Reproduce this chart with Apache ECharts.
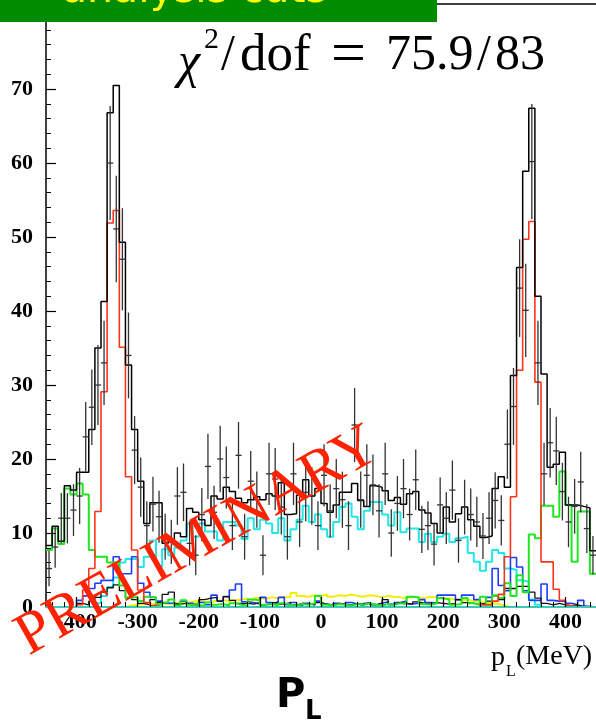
<!DOCTYPE html>
<html>
<head>
<meta charset="utf-8">
<script src="https://cdn.jsdelivr.net/npm/echarts@6/dist/echarts.min.js"></script>
<style>
html,body{margin:0;padding:0;background:#fff;}
#chart{width:596px;height:725px;}
</style>
</head>
<body>
<div id="chart"></div>
<script>
// p_L histogram: 90 bins of 10 MeV from -450 to 450
const binLow = -450;
const binWidth = 10;
const nBins = 90;
const binEdges = Array.from({length: nBins + 1}, (_, i) => binLow + i * binWidth);

const xTickValues = [-400, -300, -200, -100, 0, 100, 200, 300, 400];
const yTickLabels = [0, 10, 20, 30, 40, 50, 60, 70];

// total fit (black histogram)
const totalFit = [8.3,10.9,8.9,16.4,15.8,18.2,18.2,24.0,35.0,41.3,
  66.8,70.5,49.3,32.7,24.0,17.0,11.3,14.1,14.1,8.6,
  9.0,10.0,9.5,13.3,12.8,11.8,11.0,15.0,14.6,16.2,
  15.6,14.7,14.1,14.5,14.9,14.5,15.3,15.0,16.8,12.5,
  12.6,15.1,17.2,15.0,16.0,14.0,12.8,13.8,15.5,15.5,
  16.7,14.4,13.6,16.4,16.2,15.7,14.4,14.8,13.9,15.3,
  15.6,13.1,12.7,11.3,10.0,13.5,11.5,12.6,13.5,11.8,
  10.9,9.4,9.6,16.0,17.6,16.2,31.3,45.9,58.9,67.4,
  42.0,31.5,18.9,19.3,20.9,13.8,13.8,13.6,13.4,7.6];

// data points and their errors
const dataCounts = [5.2,8.1,12.0,12.0,13.1,15.0,23.0,27.0,30.0,33.0,
  60.0,51.1,47.0,34.0,21.2,16.2,11.0,13.9,12.2,9.5,
  8.8,15.0,15.5,8.6,7.0,12.5,19.0,12.8,20.0,17.5,
  11.0,20.5,9.5,17.0,14.5,7.0,18.0,17.3,13.5,9.5,
  18.0,11.5,15.5,15.0,11.0,17.8,13.0,16.0,14.5,11.0,
  24.6,14.5,17.8,16.5,13.0,18.0,10.0,14.0,16.0,12.5,
  17.2,10.5,11.0,8.5,13.8,12.0,15.8,9.0,13.5,12.5,
  11.5,9.6,12.0,14.4,11.7,22.0,27.1,43.1,40.1,60.2,
  33.0,18.0,22.2,21.1,15.6,11.5,13.6,16.9,10.6,7.0];
const dataErrors = [2.4,2.8,3.4,3.4,3.5,3.8,4.7,5.1,5.4,5.7,
  7.7,7.2,6.9,5.8,4.6,4.0,3.3,3.7,3.5,3.1,
  3.0,3.9,3.9,3.0,2.7,3.6,4.4,3.6,4.5,4.2,
  3.3,4.5,3.1,4.1,3.8,2.7,4.2,4.2,3.7,3.1,
  4.2,3.4,3.9,3.9,3.3,4.2,3.6,4.0,3.8,3.3,
  5.0,3.8,4.2,4.1,3.6,4.2,3.2,3.7,4.0,3.5,
  4.1,3.2,3.3,2.9,3.7,3.5,4.0,3.0,3.7,3.5,
  3.4,3.1,3.5,3.8,3.4,4.7,5.2,6.6,6.3,7.8,
  5.7,4.2,4.7,4.6,3.9,3.4,3.7,4.1,3.3,2.6];

// fit components
const signalRed = [0,0,0,0,0,0.3,2.3,5.2,12.9,29.1,
  51.9,53.6,35.1,17.6,7.7,2.3,0.6,0.2,0,0,
  0,0,0,0,0,0,0,0,0,0,
  0,0,0,0,0,0,0,0,0,0,
  0,0,0,0,0,0,0,0,0,0,
  0,0,0,0,0,0,0,0,0,0,
  0,0,0,0,0,0,0,0,0,0,
  0,0.3,0.3,0.8,1.7,6.8,14.9,32.0,49.7,52.1,
  30.4,6.1,6.1,2.4,0.9,0.2,0,0,0,0];
const bkgGreen = [7.7,10.6,8.5,16.0,15.2,16.7,15.2,7.7,6.8,6.8,
  6.0,6.0,2.9,1.2,1.4,0.8,1.4,1.3,0.3,0.6,
  1.0,0.2,0.9,0.3,0.5,0.2,0.6,0.3,0.4,0.2,
  0.5,0.3,0.2,1.0,0.9,0.3,0.4,0.2,0.5,0.3,
  0.2,0.4,0.3,0.5,1.5,0.3,0.2,0.4,0.3,0.2,
  0.4,0.3,0.5,0.3,0.2,0.4,0.3,0.5,0.4,1.4,
  1.3,0.4,0.3,0.5,1.2,1.0,0.3,0.4,1.2,0.5,
  0.3,1.4,0.3,1.6,1.2,3.2,1.5,4.3,2.0,9.8,
  9.3,13.7,13.7,12.2,18.3,13.8,6.1,12.9,12.9,4.5];
const bkgCyan = [0,0,0,0,0,0,0,0,0.5,1.5,
  2.7,4.0,6.0,6.5,6.5,5.4,6.8,9.0,5.4,7.8,
  7.0,8.0,9.0,11.3,9.5,11.3,10.2,10.2,9.0,11.5,
  11.5,11.0,9.2,12.0,10.5,11.8,11.3,10.0,12.0,9.0,
  10.5,11.8,13.7,11.5,12.5,10.5,9.5,11.5,13.5,14.0,
  12.2,10.5,13.0,14.2,14.2,12.5,11.0,12.8,10.1,10.6,
  10.6,8.8,9.9,8.8,9.5,9.9,8.8,9.3,9.5,7.3,
  6.1,4.9,6.1,7.7,7.3,5.2,5.0,3.6,3.4,1.0,
  0.3,0,0,0,0,0,0,0,0,0];
const bkgBlue = [0,0,0,0,0,0.9,1.5,2.5,3.2,3.6,
  3.6,6.8,4.5,4.5,6.8,3.2,2.0,1.3,0.8,0.5,
  0.5,0.3,0.8,0.5,0.3,0.6,0.3,1.6,0.8,1.4,
  2.3,3.1,0.7,0.6,0.4,1.3,0.6,0.5,1.3,0.3,
  0.6,0.2,0.5,0.3,0.8,0.4,0.2,0.5,0.3,0.6,
  0.4,0.2,0.5,0.3,0.5,0.7,0.3,0.6,0.8,0.4,
  0.5,1.0,0.6,0.5,1.6,1.6,1.6,1.0,1.6,1.6,
  1.0,0.3,1.3,5.2,2.9,2.2,6.7,5.4,2.2,0.9,
  0.9,3.1,0.9,0.8,0.8,0.5,0.3,0.9,0.1,0];
const bkgYellow = [0,0,0,0,0,0,0,0,0,0,
  0,0,0,0.2,0.3,0.4,0.4,0.4,0.5,0.4,
  0.5,0.6,0.5,0.7,0.8,0.6,0.7,0.8,0.9,0.8,
  0.9,1.0,1.1,0.9,1.2,1.1,1.3,1.2,1.4,1.3,
  1.9,1.5,1.4,1.6,1.5,1.7,1.4,1.6,1.5,1.7,
  1.5,1.4,1.6,1.5,1.3,1.5,1.4,1.3,1.2,1.4,
  1.3,1.2,1.4,1.3,1.1,1.2,1.0,0.9,1.0,0.8,
  0.7,0.6,0.5,0.4,0.2,0,0,0,0,0,
  0,0,0,0,0,0,0,0,0,0];
const bkgOther = [0,0,0,0,0,0.5,0.3,0.8,1.3,2.0,
  2.6,3.0,2.2,1.3,1.0,0.5,0.3,1.0,0.6,1.7,
  2.0,0.4,0.5,0.3,0.3,1.0,1.2,1.3,0.8,1.4,
  0.9,0.5,0.5,0.4,0.6,0.3,0.5,0.7,0.4,0.6,
  0.3,0.5,0.4,0.3,0.6,0.4,0.3,0.5,0.4,0.3,
  0.5,0.4,0.6,0.3,0.5,1.0,0.4,0.6,0.5,0.4,
  0.7,0.5,0.4,0.6,0.5,0.4,0.5,1.0,0.6,0.5,
  0.4,0.5,0.8,1.5,1.0,2.5,2.5,2.8,2.8,2.0,
  1.2,0.5,0.3,0.5,0.3,0.2,0.3,0.1,0,0];

// secondary x ticks every 20 MeV
const xMinorTicks = [];
for (let v = -440; v <= 440; v += 20) if (v % 100 !== 0) xMinorTicks.push(v);

function stepData(vals) {
  const d = vals.map((v, i) => [binEdges[i], v]);
  d.push([binEdges[nBins], vals[nBins - 1]]);
  return d;
}
function histSeries(name, vals, color, width, z) {
  return {
    name, type: 'line', step: 'end', data: stepData(vals), symbol: 'none',
    lineStyle: {color, width}, z, animation: false, silent: true
  };
}

const serif = '"Liberation Serif", "DejaVu Serif", serif';
const chart = echarts.init(document.getElementById('chart'), null, {renderer: 'canvas'});

function txt(x, y, text, font, fill) {
  return {type: 'text', z: 101, x, y,
    style: {text, fill: fill || '#000', font, verticalAlign: 'middle'}};
}

chart.setOption({
  animation: false,
  grid: {left: 46, right: 0, top: 4, bottom: 118, containLabel: false},
  xAxis: [{
    type: 'value', min: -450, max: 450, z: 20,
    axisLine: {show: true, onZero: false, lineStyle: {color: '#3cc8b4', width: 2}},
    axisTick: {show: true, inside: true, length: 10, customValues: xTickValues, lineStyle: {color: '#000', width: 1.2}},
    axisLabel: {customValues: xTickValues, color: '#000', fontFamily: serif, fontWeight: 'bold', fontSize: 22, margin: 4},
    splitLine: {show: false}
  }, {
    type: 'value', min: -450, max: 450, position: 'top',
    axisLine: {show: true, onZero: false, lineStyle: {color: '#000', width: 1.5}},
    axisTick: {show: false}, axisLabel: {show: false}, splitLine: {show: false}
  }, {
    type: 'value', min: -450, max: 450, position: 'bottom', offset: 0, z: 20,
    axisLine: {show: false, onZero: false},
    axisTick: {show: true, inside: true, length: 5, customValues: xMinorTicks, lineStyle: {color: '#000', width: 1}},
    axisLabel: {show: false}, splitLine: {show: false}
  }],
  yAxis: {
    type: 'value', min: 0, max: 81.5, interval: 10,
    axisLine: {show: true, onZero: false, lineStyle: {color: '#000', width: 1.5}},
    axisTick: {show: true, inside: true, length: 10, lineStyle: {color: '#000', width: 1.2}},
    minorTick: {show: true, splitNumber: 5, length: 5, lineStyle: {color: '#000', width: 1}},
    axisLabel: {
      formatter: v => (yTickLabels.indexOf(v) >= 0 ? String(v) : ''),
      color: '#000', fontFamily: serif, fontWeight: 'bold', fontSize: 22, margin: 13
    },
    splitLine: {show: false}
  },
  series: [
    histSeries('cyan', bkgCyan, '#22e6e6', 2, 3),
    histSeries('yellow', bkgYellow, '#f2ee00', 2, 3),
    histSeries('blue', bkgBlue, '#1e3cff', 1.6, 4),
    histSeries('other', bkgOther, '#111', 1.3, 4),
    histSeries('green', bkgGreen, '#1fe61f', 2, 5),
    histSeries('signal', signalRed, '#ff3319', 1.6, 6),
    histSeries('total', totalFit, '#000', 1.5, 7),
    {
      name: 'data', type: 'custom', z: 9, silent: true,
      data: dataCounts.map((v, i) => [binEdges[i] + binWidth / 2, v, dataErrors[i]]),
      encode: {x: 0, y: 1},
      renderItem(params, api) {
        const x = api.value(0), y = api.value(1), e = api.value(2);
        const c = api.coord([x, y]);
        const lo = api.coord([x, y - e]);
        const hi = api.coord([x, y + e]);
        const l = api.coord([x - binWidth / 2, y]);
        const r = api.coord([x + binWidth / 2, y]);
        const st = {stroke: '#333', lineWidth: 1.3};
        return {type: 'group', children: [
          {type: 'line', shape: {x1: c[0], y1: lo[1], x2: c[0], y2: hi[1]}, style: st},
          {type: 'line', shape: {x1: l[0], y1: c[1], x2: r[0], y2: c[1]}, style: st}
        ]};
      }
    }
  ],
  graphic: [
    {type: 'rect', z: 100, shape: {x: 0, y: 0, width: 437, height: 22}, style: {fill: '#008c00'}},
    txt(62, -9, 'analysis cuts', '41px "DejaVu Sans", sans-serif', '#ffff00'),
    txt(178, 64, 'χ', 'italic 50px ' + serif),
    txt(204, 40, '2', '30px ' + serif),
    txt(221, 56, '/', '50px ' + serif),
    txt(240, 56, 'dof', '53px ' + serif),
    txt(331, 57, '=', '62px ' + serif),
    txt(386, 56, '75.9', '50px ' + serif),
    txt(477, 56, '/', '50px ' + serif),
    txt(495, 56, '83', '50px ' + serif),
    txt(491, 658, 'p', '28px ' + serif),
    txt(506, 672, 'L', '16px ' + serif),
    txt(516, 657, '(MeV)', '28px ' + serif),
    txt(276, 697, 'P', 'bold 40px "DejaVu Sans", sans-serif'),
    txt(305, 712, 'L', 'bold 26px "DejaVu Sans", sans-serif'),
    {type: 'text', z: 102, x: 198, y: 542, rotation: 29.5 * Math.PI / 180,
      style: {text: 'PRELIMINARY', fill: '#ff2200', font: '60px ' + serif,
        align: 'center', verticalAlign: 'middle'}}
  ]
});
</script>
</body>
</html>
